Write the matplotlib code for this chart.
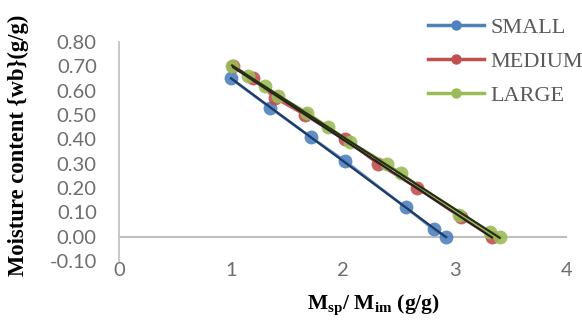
import numpy as np
import matplotlib
matplotlib.use("Agg")
import matplotlib.pyplot as plt
from matplotlib.lines import Line2D

# data
small_x = [1.00, 1.35, 1.71, 2.02, 2.56, 2.81, 2.92]
small_y = [0.65, 0.53, 0.41, 0.31, 0.12, 0.03, 0.00]

medium_x = [1.02, 1.20, 1.39, 1.66, 2.02, 2.31, 2.66, 3.05, 3.33]
medium_y = [0.70, 0.65, 0.57, 0.50, 0.40, 0.30, 0.20, 0.08, 0.00]

large_x = [1.01, 1.15, 1.30, 1.42, 1.68, 1.87, 2.06, 2.39, 2.52, 3.04, 3.31, 3.40]
large_y = [0.70, 0.66, 0.62, 0.58, 0.51, 0.45, 0.39, 0.30, 0.26, 0.09, 0.02, 0.00]

labels = ["SMALL", "MEDIUM", "LARGE"]
colors = ["#4F81BD", "#C0504D", "#9BBB59"]
trend_colors = ["#1F3A66", "#222222", "#263010"]

y_ticks = [-0.10, 0.00, 0.10, 0.20, 0.30, 0.40, 0.50, 0.60, 0.70, 0.80]
x_ticks = [0, 1, 2, 3, 4]

fig = plt.figure(figsize=(5.82, 3.2), dpi=100)
ax = fig.add_axes([119/582, 59/320, 448/582, 219/320])

series = [(small_x, small_y), (medium_x, medium_y), (large_x, large_y)]
for (xs, ys), c in zip(series, colors):
    ax.plot(xs, ys, color=c, lw=2, marker='o', ms=10, alpha=0.9,
            markeredgewidth=0, zorder=2)

# linear trendlines
for (xs, ys), tc in zip(series, trend_colors):
    k, b = np.polyfit(xs, ys, 1)
    xx = np.array([min(xs), max(xs)])
    ax.plot(xx, k*xx + b, color=tc, lw=1.6, zorder=3)

ax.set_xlim(0, 4)
ax.set_ylim(-0.10, 0.80)
ax.set_yticks(y_ticks)
ax.set_yticklabels([f"{v:.2f}" for v in y_ticks])
ax.set_xticks(x_ticks)
ax.tick_params(length=0, labelsize=14.5, colors="#6E6E6E")
ax.tick_params(axis='y', pad=16)
ax.tick_params(axis='x', pad=1)
for lab in ax.get_xticklabels() + ax.get_yticklabels():
    lab.set_family("Lato")

for s in ["top", "right", "bottom"]:
    ax.spines[s].set_visible(False)
ax.spines["left"].set_color("#BFBFBF")
ax.spines["left"].set_linewidth(1.2)
ax.axhline(0, color="#BFBFBF", lw=1.5, zorder=1)

fig.text(18/582, 1 - 145/320, "Moisture content {wb}(g/g)", rotation=90,
         va="center", ha="center", fontsize=16.3, fontweight="bold",
         family="Liberation Serif")
fig.text(373/582, 1 - 305/320, r"M$_{\mathregular{sp}}$/ M$_{\mathregular{im}}$ (g/g)",
         va="center", ha="center", fontsize=15.5, fontweight="bold",
         family="Liberation Serif")

handles = [Line2D([], [], color=c, lw=2.5, marker='o', ms=6.5) for c in colors]
leg = fig.legend(handles, labels, loc="upper left",
                 bbox_to_anchor=(428/582, 1 - 17/320), frameon=False,
                 borderaxespad=0, borderpad=0, handlelength=2.5,
                 handletextpad=0.3, labelspacing=0.62,
                 prop={"family": "Liberation Serif", "size": 16})
for t in leg.get_texts():
    t.set_color("#595959")

fig.savefig("out.png", dpi=100)
